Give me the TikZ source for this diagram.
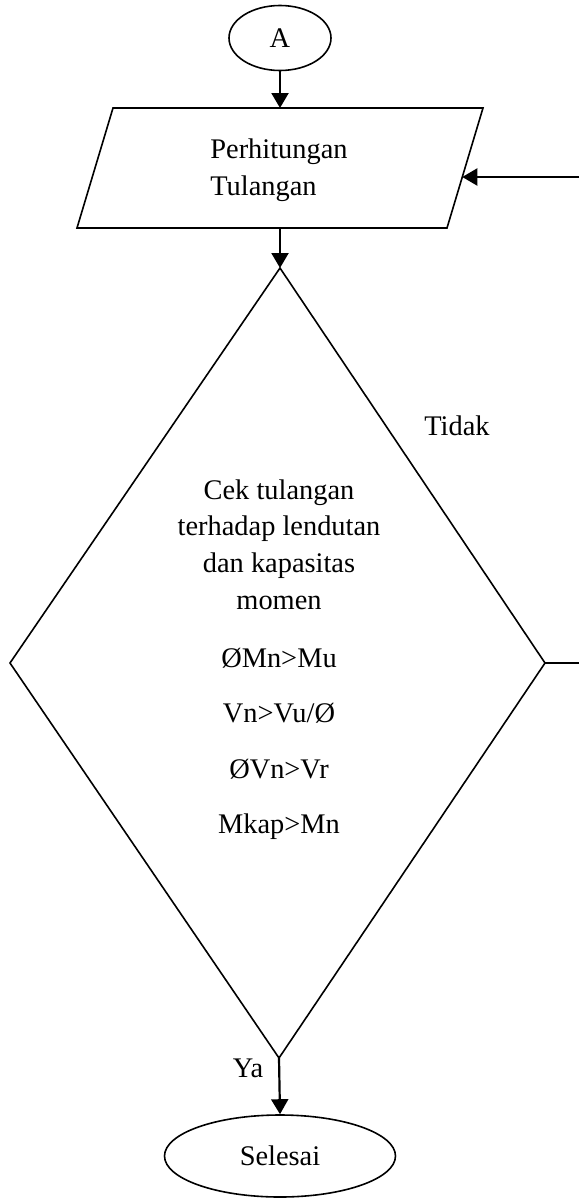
\documentclass[tikz,border=0pt]{standalone}
\usepackage{fontspec}
\setmainfont{Liberation Serif}
\usetikzlibrary{shapes.geometric,arrows.meta}
\begin{document}
\begin{tikzpicture}[x=0.5pt,y=-0.5pt,
  txt/.style={font=\fontsize{14.2}{18.35}\selectfont, inner sep=0pt},
  shapeline/.style={draw=black, line width=0.8pt},
  oval/.style={ellipse, shapeline, inner sep=0pt, font=\fontsize{14.2}{17}\selectfont},
  flow/.style={line width=1.1pt, -{Triangle[length=7.5pt,width=8.5pt]}},
  plain/.style={line width=1.1pt}]
\useasboundingbox (0,0) rectangle (579,1199);
% start terminal
\node[oval, minimum width=51pt, minimum height=32.5pt] (A) at (280,38) {A};
% parallelogram
\draw[shapeline] (113,108) -- (483,108) -- (447,228) -- (77,228) -- cycle;
\coordinate (ptop) at (280,108);
\coordinate (pbot) at (280,228);
\coordinate (pright) at (462.3,177);
\node[txt, align=left, anchor=center] (ptext) at (279,170) {Perhitungan\\Tulangan};
% diamond
\draw[shapeline] (280,268) -- (545,663) -- (279,1058) -- (10,663) -- cycle;
\coordinate (dtop) at (280,268);
\coordinate (dright) at (545,663);
\coordinate (dbot) at (279,1058);
\node[txt, align=center, anchor=north] (dtext) at (279,479) {Cek tulangan\\terhadap lendutan\\dan kapasitas\\momen};
\node[txt, anchor=base] (c1) at (279,667) {ØMn>Mu};
\node[txt, anchor=base] (c2) at (279,722) {Vn>Vu/Ø};
\node[txt, anchor=base] (c3) at (279,778) {ØVn>Vr};
\node[txt, anchor=base] (c4) at (279,833) {Mkap>Mn};
% labels
\node[txt, anchor=base] (tidak) at (457,435) {Tidak};
\node[txt, anchor=base] (ya) at (248,1077) {Ya};
% end terminal
\node[oval, minimum width=115.5pt, minimum height=41pt] (S) at (280,1156) {Selesai};
% edge coordinates of the loop
\coordinate (e1) at (579,663);
\coordinate (e2) at (579,177);
% connectors
\draw[flow] (A.south) -- (ptop);
\draw[flow] (pbot) -- (dtop);
\draw[flow] (dbot) -- (S.north);
\draw[plain] (dright) -- (e1);
\draw[flow] (e2) -- (pright);
\end{tikzpicture}
\end{document}
